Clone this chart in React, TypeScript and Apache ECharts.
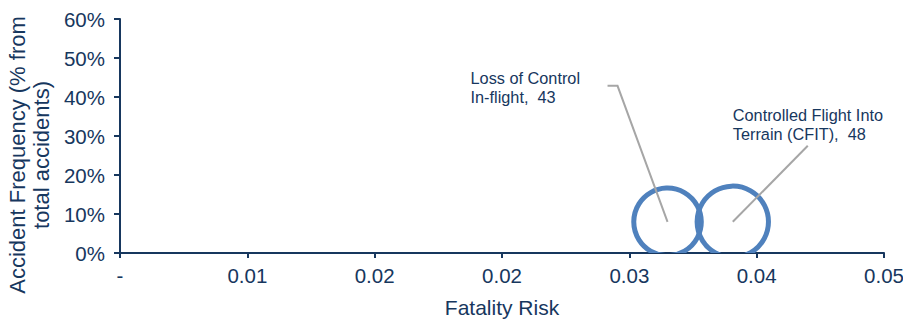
import React, { useEffect, useRef } from "react";
import * as echarts from "echarts";

const categories = ["Loss of Control\nIn-flight", "Controlled Flight Into\nTerrain (CFIT)"];
const fatalityRisk = [0.0344, 0.0385];
const accidentFrequency = [0.08, 0.08];
const bubbleValues = [43, 48];
const xTicks = { min: 0, max: 0.048, interval: 0.008 };
const yTicks = { min: 0, max: 0.6, interval: 0.1 };

// label layout (pixel offsets from bubble centre)
const labelLayout = [
  { tx: -197, ty: -153, line: [[-50, -136], [-60, -136]] },
  { tx: 0, ty: -116, line: [[75, -76]] },
];

const NAVY = "#17375E";
const FONT = "Arial, 'Liberation Sans', sans-serif";

export default function App() {
  const ref = useRef<HTMLDivElement>(null);
  useEffect(() => {
    document.body.style.margin = "0";
    const chart = echarts.init(ref.current!, null, { renderer: "svg" });
    const data = categories.map((c, i) => [fatalityRisk[i], accidentFrequency[i], bubbleValues[i], i]);
    chart.setOption({
      animation: false,
      grid: { left: 120, right: 19, top: 19, bottom: 69, outerBoundsMode: "none", containLabel: false },
      xAxis: {
        type: "value",
        min: xTicks.min,
        max: xTicks.max,
        interval: xTicks.interval,
        name: "Fatality Risk",
        nameLocation: "middle",
        nameGap: 44,
        nameTextStyle: { color: NAVY, fontSize: 21, fontFamily: FONT },
        axisLine: { show: true, lineStyle: { color: NAVY, width: 2 } },
        axisTick: { show: true, length: 5, lineStyle: { color: NAVY, width: 2 } },
        axisLabel: {
          color: NAVY,
          fontSize: 20.5,
          fontFamily: FONT,
          margin: 12,
          formatter: (v: number) => (v === 0 ? "-" : v.toFixed(2)),
        },
        splitLine: { show: false },
      },
      yAxis: {
        type: "value",
        min: yTicks.min,
        max: yTicks.max,
        interval: yTicks.interval,
        name: "Accident Frequency (% from\ntotal accidents)",
        nameLocation: "middle",
        nameGap: 63,
        nameTextStyle: {
          color: NAVY,
          fontSize: 22,
          fontFamily: FONT,
          lineHeight: 24,
          padding: [0, 38, 0, 0],
        },
        axisLine: { show: true, lineStyle: { color: NAVY, width: 2 } },
        axisTick: { show: true, length: 6, lineStyle: { color: NAVY, width: 2 } },
        axisLabel: {
          color: NAVY,
          fontSize: 20.5,
          fontFamily: FONT,
          margin: 15,
          formatter: (v: number) => Math.round(v * 100) + "%",
        },
        splitLine: { show: false },
      },
      series: [
        {
          type: "custom",
          clip: true,
          z: 2,
          data,
          renderItem: (params: any, api: any) => {
            const p = api.coord([api.value(0), api.value(1)]);
            const r = 5.15 * Math.sqrt(api.value(2));
            return {
              type: "circle",
              shape: { cx: p[0], cy: p[1], r },
              style: { fill: "none", stroke: "#4F81BD", lineWidth: 5 },
            };
          },
        },
        {
          type: "custom",
          clip: false,
          z: 3,
          data,
          renderItem: (params: any, api: any) => {
            const i = api.value(3);
            const p = api.coord([api.value(0), api.value(1)]);
            const L = labelLayout[i];
            const pts = [[p[0], p[1]], ...L.line.map((d) => [p[0] + d[0], p[1] + d[1]])];
            return {
              type: "group",
              children: [
                {
                  type: "polyline",
                  shape: { points: pts },
                  style: { fill: "none", stroke: "#A6A6A6", lineWidth: 2 },
                },
                {
                  type: "text",
                  x: p[0] + L.tx,
                  y: p[1] + L.ty,
                  style: {
                    text: categories[i] + ",  " + bubbleValues[i],
                    fill: NAVY,
                    fontSize: 16.3,
                    fontFamily: FONT,
                    lineHeight: 19,
                    align: "left",
                    verticalAlign: "top",
                  },
                },
              ],
            };
          },
        },
      ],
    });
    return () => chart.dispose();
  }, []);
  return <div ref={ref} style={{ width: 903, height: 322 }} />;
}
